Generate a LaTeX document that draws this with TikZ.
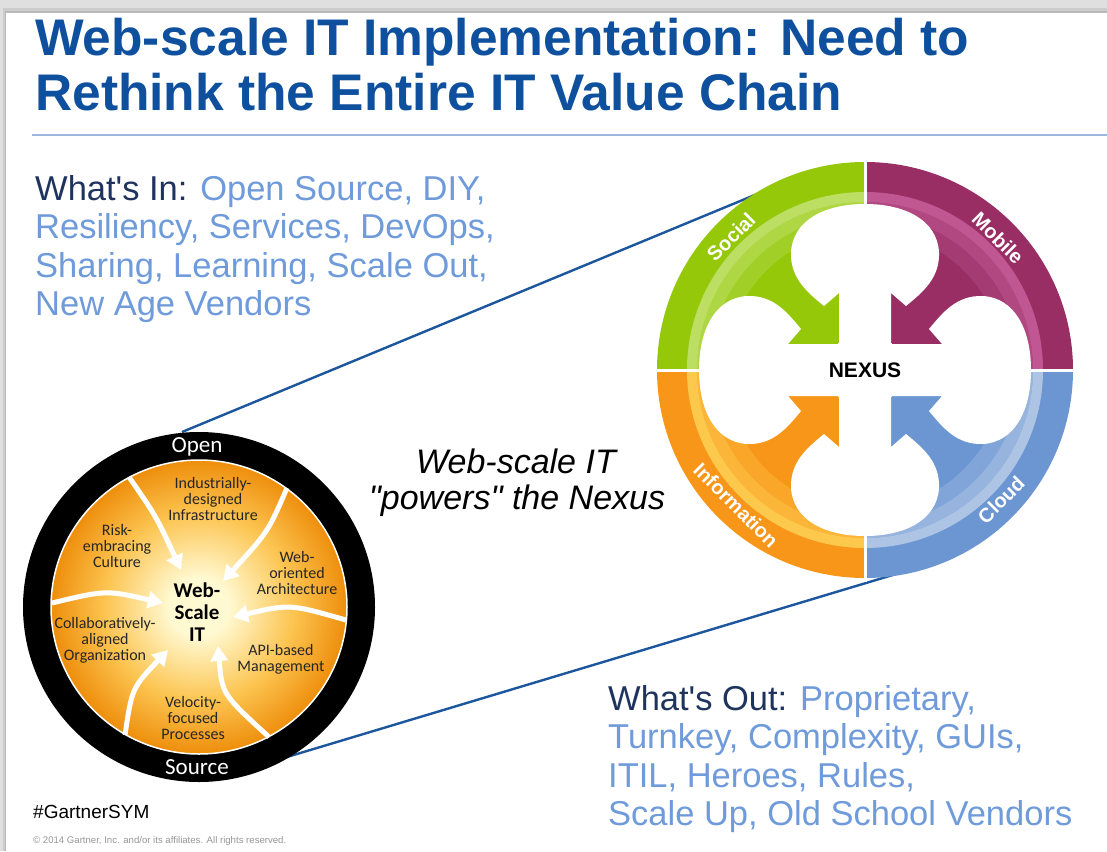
\documentclass[tikz,border=0pt]{standalone}
\usepackage{fontspec}
\setmainfont{Liberation Sans}[Ligatures=TeXOff]
\newfontfamily\carl{Carlito}
\usetikzlibrary{arrows.meta}
\definecolor{titleblue}{RGB}{14,80,158}
\definecolor{navy}{RGB}{30,52,95}
\definecolor{lblue}{RGB}{111,155,219}
\definecolor{rulecol}{RGB}{157,182,220}
\definecolor{linkblue}{RGB}{28,86,156}
\definecolor{ngreen}{RGB}{150,200,10}
\definecolor{ngreenl}{RGB}{195,228,115}
\definecolor{npurple}{RGB}{152,46,100}
\definecolor{npurplel}{RGB}{200,95,155}
\definecolor{norange}{RGB}{247,150,25}
\definecolor{norangel}{RGB}{255,210,85}
\definecolor{nblue}{RGB}{108,150,210}
\definecolor{nbluel}{RGB}{185,205,232}
\definecolor{glowin}{RGB}{255,249,210}
\definecolor{glowmid}{RGB}{252,196,80}
\definecolor{glowout}{RGB}{238,142,12}
\definecolor{copyg}{RGB}{150,150,150}
\pgfdeclareradialshading{glow}{\pgfpoint{0bp}{0bp}}{color(0bp)=(glowin); color(5bp)=(glowin); color(16bp)=(glowmid); color(25bp)=(glowout); color(50bp)=(glowout)}
\tikzset{
  intext/.style={anchor=base west, inner sep=0pt, font=\fontsize{34.5}{38}\selectfont, text=lblue},
  ringlabel/.style={text=white, font=\bfseries\fontsize{20}{20}\selectfont, inner sep=0pt},
  seglabel/.style={align=center, inner sep=0pt, font=\carl\fontsize{16}{16}\selectfont, text=black!85},
  segarrow/.style={white, line width=5pt, -{Triangle[length=15pt,width=17pt]}},
  link/.style={linkblue, line width=2.4pt},
}
\begin{document}
\begin{tikzpicture}[x=1pt,y=-1pt]
\useasboundingbox (0,0) rectangle (1107,851);
% slide and shadow
\fill[gray!25] (0,0) rectangle (1107,851);
\fill[gray!40] (3,8) rectangle (1107,851);
\fill[gray!55] (5,11) rectangle (1107,851);
\fill[white] (6,13) rectangle (1107,851);

% title
\node[anchor=base west, inner sep=0pt, font=\bfseries\fontsize{51.5}{52}\selectfont, text=titleblue] (title1) at (35,56) {Web-scale IT Implementation: Need to};
\node[anchor=base west, inner sep=0pt, font=\bfseries\fontsize{51.5}{52}\selectfont, text=titleblue] (title2) at (35,110) {Rethink the Entire IT Value Chain};
\coordinate (ruleL) at (32,135);
\coordinate (ruleR) at (1107,135);
\draw[rulecol, line width=2pt] (ruleL) -- (ruleR);

% What's In
\node[intext] (in1) at (35,200) {\textcolor{navy}{What's In:} Open Source, DIY,};
\node[intext] (in2) at (35,238.5) {Resiliency, Services, DevOps,};
\node[intext] (in3) at (35,277) {Sharing, Learning, Scale Out,};
\node[intext] (in4) at (35,315.5) {New Age Vendors};

% What's Out
\node[intext] (out1) at (608,710) {\textcolor{navy}{What's Out:} Proprietary,};
\node[intext] (out2) at (608,748.5) {Turnkey, Complexity, GUIs,};
\node[intext] (out3) at (608,787) {ITIL, Heroes, Rules,};
\node[intext] (out4) at (608,825.5) {Scale Up, Old School Vendors};

% middle italic text
\node[anchor=base, inner sep=0pt, font=\itshape\fontsize{34}{36}\selectfont] (mid1) at (516,473) {Web-scale IT};
\node[anchor=base, inner sep=0pt, font=\itshape\fontsize{34}{36}\selectfont] (mid2) at (517,509) {"powers" the Nexus};

% footer
\node[anchor=base west, inner sep=0pt, font=\fontsize{19}{20}\selectfont] (tag) at (33,818) {\#GartnerSYM};
\node[anchor=base west, inner sep=0pt, font=\fontsize{9.6}{10}\selectfont, text=copyg] (copy) at (33,843) {© 2014 Gartner, Inc. and/or its affiliates. All rights reserved.};

% connecting lines
\coordinate (openpt) at (182,432);
\coordinate (socialpt) at (762,192);
\coordinate (sourcept) at (267,763);
\coordinate (cloudpt) at (896,574);
\draw[link] (openpt) -- (socialpt);
\draw[link] (sourcept) -- (cloudpt);

% NEXUS wheel
\begin{scope}[shift={(865,370)}]
  \fill[ngreen] (0,0) -- (180:208) arc[start angle=180,end angle=270,radius=208] -- cycle;
  \fill[npurple] (0,0) -- (270:208) arc[start angle=270,end angle=360,radius=208] -- cycle;
  \fill[nblue] (0,0) -- (0:208) arc[start angle=0,end angle=90,radius=208] -- cycle;
  \fill[norange] (0,0) -- (90:208) arc[start angle=90,end angle=180,radius=208] -- cycle;
  % light inner bands
  \foreach \a/\c in {180/ngreenl,270/npurplel,0/nbluel,90/norangel}{
    \fill[\c, opacity=.85] (\a:178) arc[start angle=\a,end angle=\a+90,radius=178] -- (\a+90:168) arc[start angle=\a+90,end angle=\a,radius=168] -- cycle;
    \fill[\c, opacity=.55] (\a:168) arc[start angle=\a,end angle=\a+90,radius=168] -- (\a+90:156) arc[start angle=\a+90,end angle=\a,radius=156] -- cycle;
    \fill[\c, opacity=.28] (\a:156) arc[start angle=\a,end angle=\a+90,radius=156] -- (\a+90:140) arc[start angle=\a+90,end angle=\a,radius=140] -- cycle;
  }
  % white petals and cross
  \foreach \r in {0,90,180,270}{
    \fill[white, rotate=\r] (-26,-26) -- (-26,-77) -- (-41,-64)
      .. controls (-58,-78) and (-75,-92) .. (-74,-118)
      .. controls (-72,-150) and (-40,-166) .. (0,-166)
      .. controls (40,-166) and (72,-150) .. (74,-118)
      .. controls (75,-92) and (58,-78) .. (41,-64)
      -- (26,-77) -- (26,-26) -- cycle;
  }
  \fill[white] (-27,-27) rectangle (27,27);
  \draw[white, line width=3pt] (0,-212) -- (0,212);
  \draw[white, line width=3pt] (-212,0) -- (212,0);
  \node[font=\bfseries\fontsize{21}{21}\selectfont, inner sep=0pt] (nexus) at (0,0) {NEXUS};
  \node[ringlabel, rotate=45] (social) at (-134,-133) {Social};
  \node[ringlabel, rotate=-45] (mobile) at (133,-132) {Mobile};
  \node[ringlabel, rotate=-45] (info) at (-129,135) {Information};
  \node[ringlabel, rotate=45] (cloud) at (136,130) {Cloud};
\end{scope}

% Web-scale IT circle
\fill[black] (199,607) ellipse[x radius=176, y radius=175];
\shade[shading=glow, draw=white, line width=1.5pt] (199,607) ellipse[x radius=148, y radius=147];
\node[text=white, font=\carl\fontsize{23}{23}\selectfont, inner sep=0pt] (open) at (197,447) {Open};
\node[text=white, font=\carl\fontsize{23}{23}\selectfont, inner sep=0pt] (source) at (197,767) {Source};

\coordinate (a1s) at (129,477); \coordinate (a1e) at (181,570);
\coordinate (a2s) at (287,488); \coordinate (a2e) at (223,581);
\coordinate (a3s) at (346,620); \coordinate (a3e) at (233,617);
\coordinate (a4s) at (269,737); \coordinate (a4e) at (218,646);
\coordinate (a5s) at (125,735); \coordinate (a5e) at (168,650);
\coordinate (a6s) at (52,603);  \coordinate (a6e) at (163,603);
\draw[segarrow] (a1s) .. controls (156,516) .. (a1e);
\draw[segarrow] (a2s) .. controls (268,532) .. (a2e);
\draw[segarrow] (a3s) .. controls (290,604) .. (a3e);
\draw[segarrow] (a4s) .. controls (222,694) .. (a4e);
\draw[segarrow] (a5s) .. controls (132,688) .. (a5e);
\draw[segarrow] (a6s) .. controls (106,590) .. (a6e);

\node[seglabel] (ind) at (213,499) {Industrially-\\designed\\Infrastructure};
\node[seglabel] (risk) at (117,546) {Risk-\\embracing\\Culture};
\node[seglabel] (woa) at (297,573) {Web-\\oriented\\Architecture};
\node[seglabel] (collab) at (105,640) {Collaboratively-\\aligned\\Organization};
\node[seglabel] (api) at (281,659) {API-based\\Management};
\node[seglabel] (vel) at (193,718) {Velocity-\\focused\\Processes};
\node[align=center, inner sep=0pt, font=\carl\bfseries\fontsize{21}{22}\selectfont] (wsit) at (197,612) {Web-\\Scale\\IT};
\end{tikzpicture}
\end{document}
